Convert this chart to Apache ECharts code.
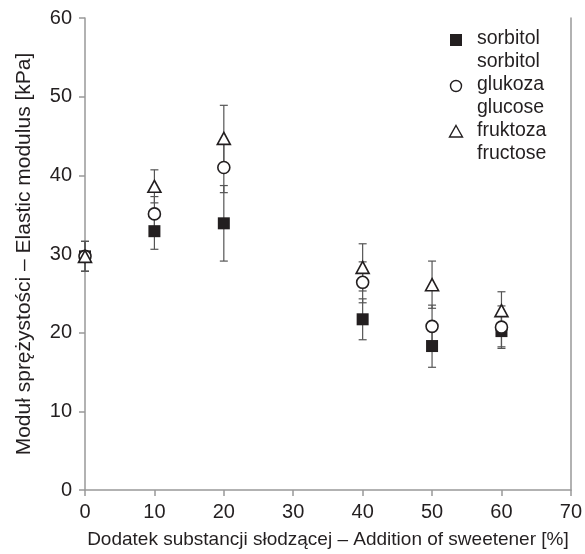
<!DOCTYPE html>
<html>
<head>
<meta charset="utf-8">
<script src="https://cdn.jsdelivr.net/npm/echarts@6/dist/echarts.min.js"></script>
<style>
html,body{margin:0;padding:0;background:#fff;}
#chart{width:585px;height:554px;}
</style>
</head>
<body>
<div id="chart"></div>
<script>
// Data
const xValues = [0, 10, 20, 40, 50, 60];
const sorbitol = [29.7, 32.9, 33.9, 21.7, 18.3, 20.2];
const sorbitolErr = [1.9, 2.3, 4.8, 2.6, 2.7, 2.0];
const glucose = [29.7, 35.1, 41.0, 26.4, 20.8, 20.7];
const glucoseErr = [1.9, 2.2, 3.2, 2.6, 2.7, 2.7];
const fructose = [29.7, 38.6, 44.7, 28.3, 26.1, 22.8];
const fructoseErr = [1.9, 2.1, 4.2, 3.0, 3.0, 2.4];
const legendLines = [['sorbitol', 'sorbitol'], ['glukoza', 'glucose'], ['fruktoza', 'fructose']];
const xName = 'Dodatek substancji słodzącej – Addition of sweetener [%]';
const yName = 'Moduł sprężystości – Elastic modulus [kPa]';

const FONT = '"Liberation Sans", Arial, sans-serif';
const TXT = '#231f20';
const AX = '#999999';

const chart = echarts.init(document.getElementById('chart'), null, {renderer: 'canvas'});

function errData(vals, errs) {
  return xValues.map((x, i) => [x, vals[i] - errs[i], vals[i] + errs[i]]);
}
function errSeries(vals, errs) {
  return {
    type: 'custom',
    z: 1,
    silent: true,
    data: errData(vals, errs),
    renderItem: function (params, api) {
      const x = api.value(0);
      const lo = api.coord([x, api.value(1)]);
      const hi = api.coord([x, api.value(2)]);
      const w = 4;
      const st = {stroke: '#555555', lineWidth: 1.2};
      return {
        type: 'group',
        children: [
          {type: 'line', shape: {x1: lo[0], y1: lo[1], x2: hi[0], y2: hi[1]}, style: st},
          {type: 'line', shape: {x1: lo[0] - w, y1: lo[1], x2: lo[0] + w, y2: lo[1]}, style: st},
          {type: 'line', shape: {x1: hi[0] - w, y1: hi[1], x2: hi[0] + w, y2: hi[1]}, style: st}
        ]
      };
    }
  };
}
function pts(vals) { return xValues.map((x, i) => [x, vals[i]]); }

const triPath = 'path://M0,-10 L8.66,5 L-8.66,5 Z';

const legendX = 456, legendTextX = 477, legendY0 = 40, lineH = 23;
const legendGraphics = [];
legendLines.forEach((pair, k) => {
  const y = legendY0 + k * 2 * lineH;
  pair.forEach((t, j) => {
    legendGraphics.push({
      type: 'text', left: legendTextX, top: y + j * lineH - 11,
      style: {text: t, fill: TXT, font: '19.5px ' + FONT}
    });
  });
});
legendGraphics.push({type: 'rect', shape: {x: legendX - 6, y: legendY0 - 6, width: 12, height: 12}, style: {fill: '#231f20'}});
legendGraphics.push({type: 'circle', shape: {cx: legendX, cy: legendY0 + 2 * lineH, r: 5.5}, style: {fill: '#fff', stroke: '#231f20', lineWidth: 1.4}});
legendGraphics.push({type: 'polygon', shape: {points: [[legendX, legendY0 + 4 * lineH - 6.5], [legendX + 6.5, legendY0 + 4 * lineH + 5], [legendX - 6.5, legendY0 + 4 * lineH + 5]]}, style: {fill: '#fff', stroke: '#231f20', lineWidth: 1.4}});

chart.setOption({
  animation: false,
  backgroundColor: '#fff',
  grid: {left: 85, right: 12, top: 18, bottom: 64, containLabel: false},
  xAxis: {
    type: 'value', min: 0, max: 70, interval: 10,
    name: xName, nameLocation: 'middle', nameGap: 40,
    nameTextStyle: {color: TXT, fontSize: 19, fontFamily: FONT},
    axisLine: {show: true, onZero: false, lineStyle: {color: AX, width: 1.5}},
    axisTick: {show: true, length: 6, lineStyle: {color: AX, width: 1.5}},
    axisLabel: {color: TXT, fontSize: 20, fontFamily: FONT, margin: 12},
    splitLine: {show: false}
  },
  yAxis: [{
    type: 'value', min: 0, max: 60, interval: 10,
    name: yName, nameLocation: 'middle', nameGap: 50,
    nameTextStyle: {color: TXT, fontSize: 21, fontFamily: FONT},
    axisLine: {show: true, lineStyle: {color: AX, width: 1.5}},
    axisTick: {show: true, length: 6, lineStyle: {color: AX, width: 1.5}},
    axisLabel: {color: TXT, fontSize: 20, fontFamily: FONT, margin: 13},
    splitLine: {show: false}
  }, {
    type: 'value', min: 0, max: 60, interval: 10, position: 'right',
    axisLine: {show: true, lineStyle: {color: AX, width: 1.5}},
    axisTick: {show: false}, axisLabel: {show: false}, splitLine: {show: false}
  }],
  graphic: legendGraphics,
  series: [
    errSeries(sorbitol, sorbitolErr),
    errSeries(glucose, glucoseErr),
    errSeries(fructose, fructoseErr),
    {name: 'sorbitol', type: 'scatter', z: 3, data: pts(sorbitol), symbol: 'rect', symbolSize: 12,
      itemStyle: {color: '#231f20', opacity: 1}},
    {name: 'glukoza', type: 'scatter', z: 4, data: pts(glucose), symbol: 'circle', symbolSize: 12,
      itemStyle: {color: '#ffffff', borderColor: '#231f20', borderWidth: 1.6, opacity: 1}},
    {name: 'fruktoza', type: 'scatter', z: 5, data: pts(fructose), symbol: triPath, symbolSize: [13, 12],
      itemStyle: {color: '#ffffff', borderColor: '#231f20', borderWidth: 1.6, opacity: 1}}
  ]
});
</script>
</body>
</html>
